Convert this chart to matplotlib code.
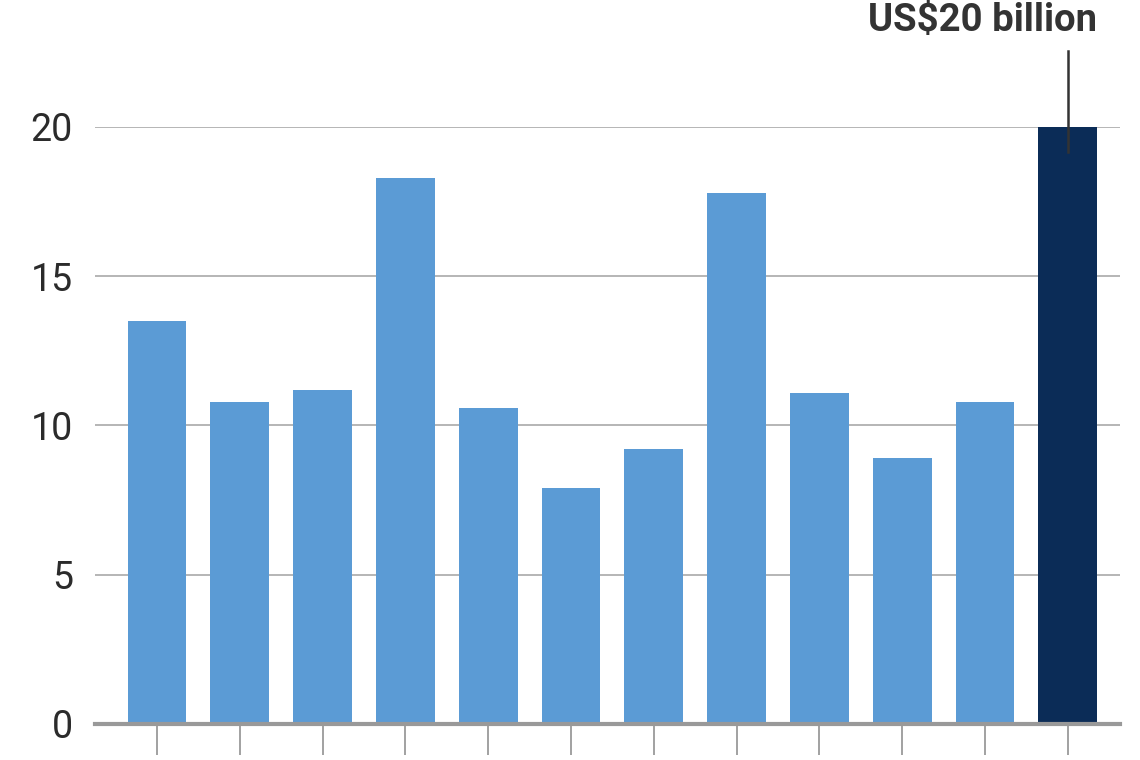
import matplotlib
matplotlib.use("Agg")
import matplotlib.pyplot as plt
from matplotlib.lines import Line2D

values = [13.5, 10.8, 11.2, 18.3, 10.6, 7.9, 9.2, 17.8, 11.1, 8.9, 10.8, 20.0]
highlight_index = 11
y_ticks = [0, 5, 10, 15, 20]
annotation_text = "US$20 billion"

plt.rcParams['font.family'] = ['Roboto', 'DejaVu Sans']

fig = plt.figure(figsize=(11.4, 7.6), dpi=100)
ax = fig.add_axes([95/1140, 1-724/760, (1120-95)/1140, (724-127)/760])

x = list(range(len(values)))
colors = ['#0B2C57' if i == highlight_index else '#5B9BD5' for i in x]
ax.bar(x, values, width=0.71, color=colors, zorder=3)

ax.set_xlim(-0.75, len(values) - 1 + 0.63)
ax.set_ylim(0, 20)
ax.set_yticks(y_ticks)
ax.set_yticklabels([str(t) for t in y_ticks], fontsize=27, color='#2b2b2b', fontweight='normal')
ax.tick_params(axis='y', length=0, pad=16)
ax.set_xticks(x)
ax.set_xticklabels([])
ax.tick_params(axis='x', length=22, width=1.3, color='#9a9a9a', direction='out')

for t in y_ticks[1:]:
    ax.axhline(t, color='#b0b0b0', linewidth=1.3, zorder=1)

for side in ['top', 'right', 'left']:
    ax.spines[side].set_visible(False)
ax.spines['bottom'].set_color('#999999')
ax.spines['bottom'].set_linewidth(3)
ax.spines['bottom'].set_zorder(4)

# annotation
hx = highlight_index
ax.add_line(Line2D([hx, hx], [values[hx] - 0.85, values[hx] + 2.55], color='#333333',
                   linewidth=1.8, zorder=5, clip_on=False))
ax.text(hx + 0.355, values[hx] + 2.95, annotation_text, ha='right', va='bottom',
        fontsize=27.5, fontweight='bold', color='#333333', clip_on=False)

fig.savefig('out.png', dpi=100)
